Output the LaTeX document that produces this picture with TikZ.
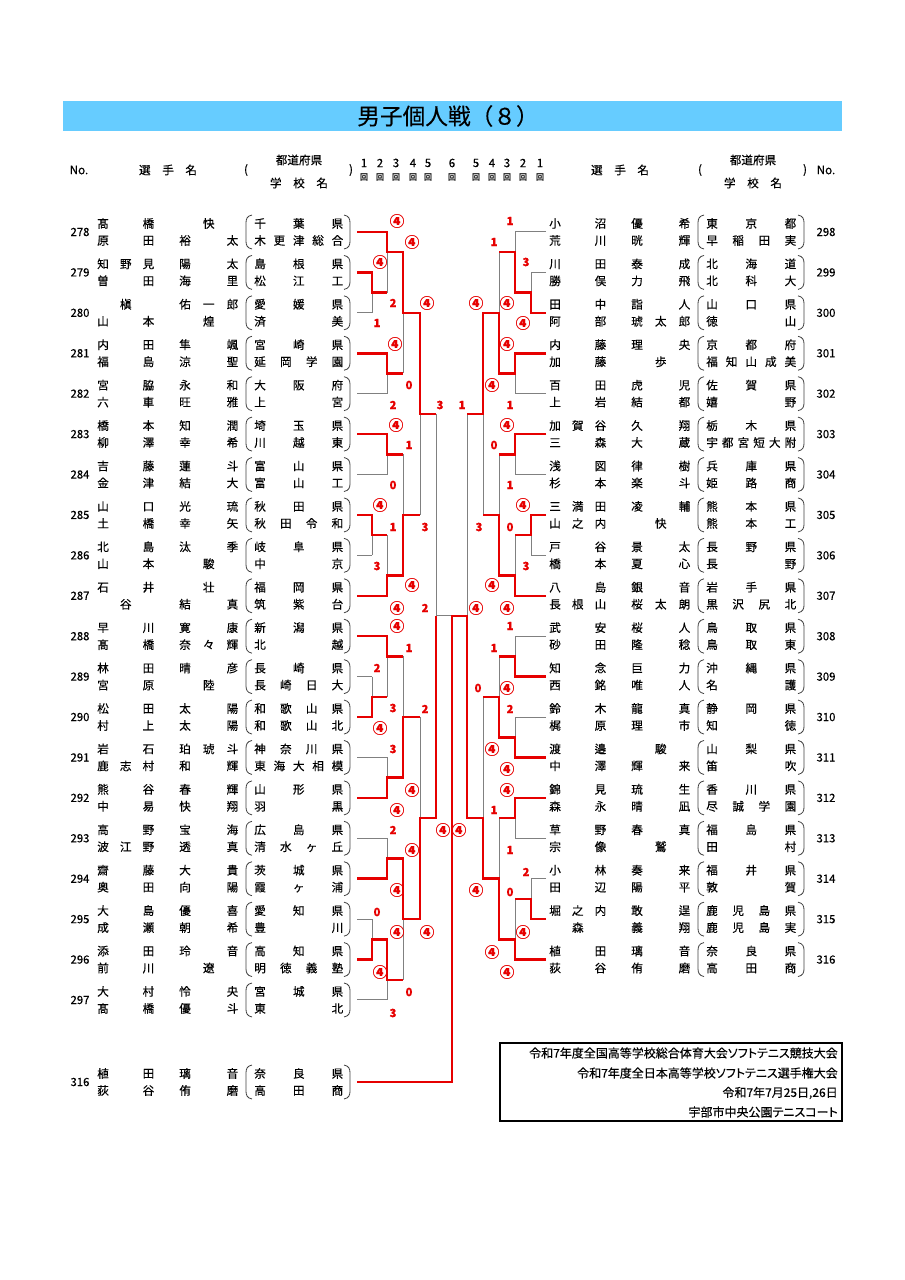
\documentclass[tikz,border=0pt]{standalone}
\usepackage{fontspec}
\setmainfont[FakeBold=0.3]{Noto Sans CJK JP}
\newfontfamily\propfont[RawFeature=+palt,FakeBold=0.3]{Noto Sans CJK JP}
\definecolor{tred}{RGB}{230,0,0}
\definecolor{tgray}{RGB}{128,128,128}
\definecolor{tblue}{RGB}{102,204,255}
\newdimen\pu \pu=0.75pt
% spread the letters of a name over a fixed width
\def\sprdend{}
\def\sprd#1{\sprdloop#1\sprdend}
\def\sprdloop#1#2{#1\ifx#2\sprdend\else\hfill\expandafter\sprdloop\expandafter#2\fi}
\newcommand\spbox[2]{\hbox to #1\pu{\hfil\sprd{#2}\hfil}}
\newcommand\nmline[2]{\spbox{57}{#1}\hskip25\pu\spbox{59}{#2}}
\newcommand\cir{{\fontsize{11}{11}\selectfont ④}}
\tikzset{
  lose/.style={tgray,line width=0.75pt},
  win/.style={tred,line width=1.9pt},
  paren/.style={black!75,line width=0.6pt},
  nmtx/.style={anchor=west,inner sep=0pt,font=\fontsize{8.7}{8.7}\selectfont,text height=7.6pt,text depth=1.1pt},
  numtx/.style={inner sep=0pt,font=\fontsize{8.5}{8.5}\selectfont},
  hdtx/.style={inner sep=0pt,font=\fontsize{8.7}{8.7}\selectfont},
  sc/.style={inner sep=0pt,text=tred,font=\fontsize{8.5}{8.5}\selectfont\bfseries},
}
% left entry: key, y, number, name line 1, name line 2, school lines
\newcommand\entL[9]{%
  \node[numtx] (n#1) at (80,{#2}) {#3};
  \node[nmtx] (a#1) at (97,{#2-8.5}) {\nmline{#4}{#5}};
  \node[nmtx] (b#1) at (97,{#2+8.5}) {\nmline{#6}{#7}};
  \node[nmtx] (s#1) at (254,{#2-8.5}) {\spbox{89}{#8}};
  \node[nmtx] (t#1) at (254,{#2+8.5}) {\spbox{89}{#9}};
  \draw[paren] (252,{#2-17}) .. controls (247,{#2-16}) and (246,{#2-13}) .. (246,{#2-9}) -- (246,{#2+9}) .. controls (246,{#2+13}) and (247,{#2+16}) .. (252,{#2+17});
  \draw[paren] (344,{#2-17}) .. controls (349,{#2-16}) and (350,{#2-13}) .. (350,{#2-9}) -- (350,{#2+9}) .. controls (350,{#2+13}) and (349,{#2+16}) .. (344,{#2+17});
  \coordinate (p#1) at (357,{#2});}
% right entry
\newcommand\entR[9]{%
  \node[numtx] (n#1) at (826,{#2}) {#3};
  \node[nmtx] (a#1) at (549,{#2-8.5}) {\nmline{#4}{#5}};
  \node[nmtx] (b#1) at (549,{#2+8.5}) {\nmline{#6}{#7}};
  \node[nmtx] (s#1) at (706,{#2-8.5}) {\spbox{90}{#8}};
  \node[nmtx] (t#1) at (706,{#2+8.5}) {\spbox{90}{#9}};
  \draw[paren] (704,{#2-17}) .. controls (699,{#2-16}) and (698,{#2-13}) .. (698,{#2-9}) -- (698,{#2+9}) .. controls (698,{#2+13}) and (699,{#2+16}) .. (704,{#2+17});
  \draw[paren] (798,{#2-17}) .. controls (803,{#2-16}) and (804,{#2-13}) .. (804,{#2-9}) -- (804,{#2+9}) .. controls (804,{#2+13}) and (803,{#2+16}) .. (798,{#2+17});
  \coordinate (p#1) at (546,{#2});}
\newcommand\winpath[2]{\draw[win] (p#1) \foreach \v/\o in {#2} {-| (\v,{ry(\o)})};}

\begin{document}
\begin{tikzpicture}[x=0.75pt,y=-0.75pt,declare function={ry(\r)=232+40.42*\r;}]
  \useasboundingbox (0,0) rectangle (905,1280);
  % title
  \fill[tblue] (63,101) rectangle (842,131);
  \node[inner sep=0pt,font=\fontsize{17}{17}\selectfont] (title) at (448,116) {男子個人戦（８）};
  % column heads
  \node[hdtx] (hno) at (79,170) {No.};
  \node[hdtx] (hname) at (168,170) {選\hspace{1em}手\hspace{1em}名};
  \node[hdtx] (hpl) at (246,170) {(};
  \node[hdtx] (hpref) at (299,160) {都道府県};
  \node[hdtx] (hsch) at (299,183) {学\hspace{1em}校\hspace{1em}名};
  \node[hdtx] (hpr) at (351,170) {)};
  \node[hdtx] (hname2) at (620,170) {選\hspace{1em}手\hspace{1em}名};
  \node[hdtx] (hpl2) at (700,170) {(};
  \node[hdtx] (hpref2) at (753,160) {都道府県};
  \node[hdtx] (hsch2) at (753,183) {学\hspace{1em}校\hspace{1em}名};
  \node[hdtx] (hpr2) at (805,170) {)};
  \node[hdtx] (hno2) at (826,170) {No.};
  \foreach \x/\t [count=\k] in {364/1,380/2,396/3,413/4,428/5,452/6,476/5,492/4,507/3,523/2,540/1}{
    \node[hdtx] (rd\k) at (\x,163) {\t};
    \node[inner sep=0pt,font=\fontsize{6}{6}\selectfont] (rk\k) at (\x,177) {回};}

  % entries, left
  \entL{278}{ry(0)}{278}{髙橋}{快}{原田}{裕太}{千葉県}{木更津総合}
  \entL{279}{ry(1)}{279}{知野見}{陽太}{曽田}{海里}{島根県}{松江工}
  \entL{280}{ry(2)}{280}{槇}{佑一郎}{山本}{煌}{愛媛県}{済美}
  \entL{281}{ry(3)}{281}{内田}{隼颯}{福島}{涼聖}{宮崎県}{延岡学園}
  \entL{282}{ry(4)}{282}{宮脇}{永和}{六車}{旺雅}{大阪府}{上宮}
  \entL{283}{ry(5)}{283}{橋本}{知潤}{柳澤}{幸希}{埼玉県}{川越東}
  \entL{284}{ry(6)}{284}{吉藤}{蓮斗}{金津}{結大}{富山県}{富山工}
  \entL{285}{ry(7)}{285}{山口}{光琉}{土橋}{幸矢}{秋田県}{秋田令和}
  \entL{286}{ry(8)}{286}{北島}{汰季}{山本}{駿}{岐阜県}{中京}
  \entL{287}{ry(9)}{287}{石井}{壮}{谷}{結真}{福岡県}{筑紫台}
  \entL{288}{ry(10)}{288}{早川}{寛康}{髙橋}{奈々輝}{新潟県}{北越}
  \entL{289}{ry(11)}{289}{林田}{晴彦}{宮原}{陸}{長崎県}{長崎日大}
  \entL{290}{ry(12)}{290}{松田}{太陽}{村上}{太陽}{和歌山県}{和歌山北}
  \entL{291}{ry(13)}{291}{岩石}{珀琥斗}{鹿志村}{和輝}{神奈川県}{東海大相模}
  \entL{292}{ry(14)}{292}{熊谷}{春輝}{中易}{快翔}{山形県}{羽黒}
  \entL{293}{ry(15)}{293}{高野}{宝海}{波江野}{透真}{広島県}{清水ヶ丘}
  \entL{294}{ry(16)}{294}{齋藤}{大貴}{奥田}{向陽}{茨城県}{霞ヶ浦}
  \entL{295}{ry(17)}{295}{大島}{優喜}{成瀬}{朝希}{愛知県}{豊川}
  \entL{296}{ry(18)}{296}{添田}{玲音}{前川}{遼}{高知県}{明徳義塾}
  \entL{297}{ry(19)}{297}{大村}{怜央}{髙橋}{優斗}{宮城県}{東北}
  \entL{w316}{1082}{316}{植田}{璃音}{荻谷}{侑磨}{奈良県}{高田商}
  % entries, right
  \entR{298}{ry(0)}{298}{小沼}{優希}{荒川}{晄輝}{東京都}{早稲田実}
  \entR{299}{ry(1)}{299}{川田}{泰成}{勝俣}{力飛}{北海道}{北科大}
  \entR{300}{ry(2)}{300}{田中}{詣人}{阿部}{琥太郎}{山口県}{徳山}
  \entR{301}{ry(3)}{301}{内藤}{理央}{加藤}{歩}{京都府}{福知山成美}
  \entR{302}{ry(4)}{302}{百田}{虎児}{上岩}{結都}{佐賀県}{嬉野}
  \entR{303}{ry(5)}{303}{加賀谷}{久翔}{三森}{大蔵}{栃木県}{宇都宮短大附}
  \entR{304}{ry(6)}{304}{浅図}{律樹}{杉本}{楽斗}{兵庫県}{姫路商}
  \entR{305}{ry(7)}{305}{三満田}{凌輔}{山之内}{快}{熊本県}{熊本工}
  \entR{306}{ry(8)}{306}{戸谷}{景太}{橋本}{夏心}{長野県}{長野}
  \entR{307}{ry(9)}{307}{八島}{銀音}{長根山}{桜太朗}{岩手県}{黒沢尻北}
  \entR{308}{ry(10)}{308}{武安}{桜人}{砂田}{隆稔}{鳥取県}{鳥取東}
  \entR{309}{ry(11)}{309}{知念}{巨力}{西銘}{唯人}{沖縄県}{名護}
  \entR{310}{ry(12)}{310}{鈴木}{龍真}{梶原}{理市}{静岡県}{知徳}
  \entR{311}{ry(13)}{311}{渡邉}{駿}{中澤}{輝来}{山梨県}{笛吹}
  \entR{312}{ry(14)}{312}{錦見}{琉生}{森永}{晴凪}{香川県}{尽誠学園}
  \entR{313}{ry(15)}{313}{草野}{春真}{宗像}{鷲}{福島県}{田村}
  \entR{314}{ry(16)}{314}{小林}{奏来}{田辺}{陽平}{福井県}{敦賀}
  \entR{315}{ry(17)}{315}{堀之内}{敢逞}{森}{義翔}{鹿児島県}{鹿児島実}
  \entR{316}{ry(18)}{316}{植田}{璃音}{荻谷}{侑磨}{奈良県}{高田商}

  % bracket, thin lines
  \foreach \n/\v in {278/387,279/372,280/372,281/387,282/387,283/387,284/387,285/372,286/372,287/387,
                     288/387,289/372,290/372,291/387,292/387,293/387,294/387,295/372,296/372,297/387}
    \draw[lose] (p\n) -- (\v,{ry(\n-278)});
  \foreach \n/\v in {298/515,299/531,300/531,301/515,302/515,303/515,304/515,305/531,306/531,307/515,
                     308/515,309/515,310/515,311/515,312/515,313/515,314/531,315/531,316/515}
    \draw[lose] (p\n) -- (\v,{ry(\n-298)});
  \foreach \v/\t/\b/\o/\w in {
      372/1/2/1.5/387, 372/7/8/7.5/387, 372/11/12/11.5/387, 372/17/18/17.5/387,
      387/0/1.5/0.5/403, 387/3/4/3.5/403, 387/5/6/5.5/403, 387/7.5/9/8.5/403,
      387/10/11.5/10.5/403, 387/13/14/13.5/403, 387/15/16/15.5/403, 387/17.5/19/18.5/403,
      403/0.5/3.5/2/420, 403/5.5/8.5/7/420, 403/10.5/13.5/12/420, 403/15.5/18.5/17/420,
      420/2/7/4.5/436, 420/12/17/14.5/436, 436/4.5/14.5/9.5/452,
      531/1/2/1.5/515, 531/7/8/7.5/515, 531/16/17/16.5/515,
      515/0/1.5/0.5/499, 515/3/4/3.5/499, 515/5/6/5.5/499, 515/7.5/9/8.5/499,
      515/10/11/10.5/499, 515/12/13/12.5/499, 515/14/15/14.5/499, 515/16.5/18/17.5/499,
      499/0.5/3.5/2/483, 499/5.5/8.5/7/483, 499/10.5/12.5/11.5/483, 499/14.5/17.5/16/483,
      483/2/7/4.5/467, 483/11.5/16/14.5/467, 467/4.5/14.5/9.5/452}
    \draw[lose] (\v,{ry(\t)}) -- (\v,{ry(\b)}) (\v,{ry(\o)}) -- (\w,{ry(\o)});

  % winners
  \winpath{278}{387/0.5,403/2,420/4.5,436/4.5}
  \winpath{279}{372/1.5,387/1.5}
  \winpath{281}{387/3.5,403/3.5}
  \winpath{283}{387/5.5,403/5.5}
  \winpath{285}{372/7.5,387/7.5}
  \winpath{287}{387/8.5,403/7,420/7}
  \winpath{288}{387/10.5,403/10.5}
  \winpath{290}{372/11.5,387/11.5}
  \winpath{292}{387/13.5,403/12,420/12}
  \winpath{294}{387/15.5,403/17,420/14.5,436/9.5}
  \winpath{296}{372/17.5,387/18.5,403/18.5}
  \winpath{300}{531/1.5,515/0.5,499/0.5}
  \winpath{301}{515/3.5,499/2,483/4.5,467/4.5}
  \winpath{303}{515/5.5,499/5.5}
  \winpath{305}{531/7.5,515/7.5}
  \winpath{307}{515/8.5,499/7,483/7}
  \winpath{309}{515/10.5,499/10.5}
  \winpath{311}{515/12.5,499/11.5,483/11.5}
  \winpath{312}{515/14.5,499/14.5}
  \winpath{315}{531/16.5,515/16.5}
  \draw[win] (p316) \foreach \v/\o in {515/17.5,499/16,483/14.5,467/9.5} {-| (\v,{ry(\o)})}
    -| (452,1082) -- (pw316);

  % scores
  \foreach \x/\y/\t [count=\k] in {397/221/\cir,412/242/\cir,380/262/\cir,393/303/2,427/303/\cir,377/323/1,
      395/344/\cir,409/385/0,393/405/2,440/405/3,396/425/\cir,409/445/1,393/485/0,380/505/\cir,
      393/527/1,425/527/3,377/566/3,412/585/\cir,397/608/\cir,425/608/2,397/626/\cir,409/648/1,
      377/668/2,393/708/3,425/709/2,380/728/\cir,393/749/3,412/790/\cir,397/810/\cir,393/830/2,
      443/830/\cir,412/850/\cir,397/890/\cir,377/912/0,397/932/\cir,427/932/\cir,380/972/\cir,409/992/0,393/1013/3}
    \node[sc] (sl\k) at (\x,\y) {\t};
  \foreach \x/\y/\t [count=\k] in {510/221/1,494/242/1,526/262/3,476/303/\cir,507/303/\cir,523/323/\cir,
      507/344/\cir,492/385/\cir,462/405/1,510/405/1,507/425/\cir,494/445/0,510/485/1,523/505/\cir,
      479/527/3,510/527/0,526/566/3,492/585/\cir,476/608/\cir,507/608/\cir,510/626/1,494/648/1,
      478/688/0,507/688/\cir,510/709/2,492/749/\cir,507/769/\cir,507/790/\cir,494/810/1,459/830/\cir,
      510/850/1,526/872/2,476/890/\cir,510/892/0,523/932/\cir,492/952/\cir,507/972/\cir}
    \node[sc] (sr\k) at (\x,\y) {\t};

  % meeting box
  \draw[line width=0.8pt] (500,1043) rectangle (842,1121);
  \foreach \y/\t [count=\k] in {1053/令和7年度全国高等学校総合体育大会ソフトテニス競技大会,
      1073/令和7年度全日本高等学校ソフトテニス選手権大会,1093/{令和7年7月25日,26日},
      1112/宇部市中央公園テニスコート}
    \node[anchor=east,inner sep=0pt,font=\fontsize{9}{9}\propfont] (mt\k) at (838,\y) {\t};
\end{tikzpicture}
\end{document}
